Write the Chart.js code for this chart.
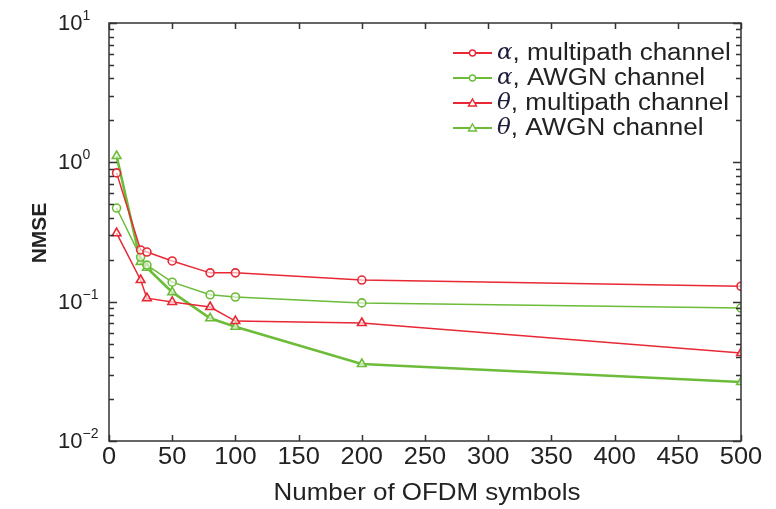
<!DOCTYPE html>
<html>
<head>
<meta charset="utf-8">
<script src="https://cdn.jsdelivr.net/npm/chart.js@4/dist/chart.umd.min.js"></script>
<style>
  html, body { margin: 0; padding: 0; background: #fff; }
  #wrap { width: 776px; height: 509px; }
</style>
</head>
<body>
<div id="wrap"><canvas id="nmseChart" width="776" height="509"></canvas></div>
<script>
// Datos
const xValues = [6, 25, 30, 50, 80, 100, 200, 500];
const alphaMultipath = [0.84, 0.235, 0.227, 0.196, 0.161, 0.161, 0.143, 0.129];
const alphaAwgn = [0.47, 0.209, 0.183, 0.138, 0.112, 0.108, 0.098, 0.090];
const thetaMultipath = [0.31, 0.143, 0.106, 0.0995, 0.0916, 0.0726, 0.0703, 0.0428];
const thetaAwgn = [1.11, 0.193, 0.175, 0.117, 0.076, 0.066, 0.0357, 0.0265];

const xTicks = [0, 50, 100, 150, 200, 250, 300, 350, 400, 450, 500];
const yDecades = [-2, -1, 0, 1];

const seriesSymbols = ['α', 'α', 'θ', 'θ'];
const seriesNames = [', multipath channel', ', AWGN channel', ', multipath channel', ', AWGN channel'];

const RED = 'rgb(232, 40, 52)';
const GREEN = 'rgb(108, 188, 58)';
const FONT = '"Liberation Sans", Arial, sans-serif';
const TEXT = '#222';

const toPoints = ys => xValues.map((x, i) => ({ x: x, y: ys[i] }));

function makeDataset(label, ys, color, style, width) {
    return {
        label: label,
        data: toPoints(ys),
        borderColor: color,
        backgroundColor: 'rgba(255,255,255,0.6)',
        borderWidth: width,
        pointStyle: style,
        pointRadius: style === 'circle' ? 4 : 5,
        pointBorderColor: color,
        pointBorderWidth: 1.6,
        tension: 0
    };
}

// texto con estiramiento horizontal (la figura original está algo ensanchada)
function wideText(c, txt, x, y, font, sx, align) {
    c.save();
    c.font = font;
    const w = c.measureText(txt).width * sx;
    let left = x;
    if (align === 'center') left = x - w / 2;
    else if (align === 'right') left = x - w;
    c.translate(left, y);
    c.scale(sx, 1);
    c.textAlign = 'left';
    c.fillText(txt, 0, 0);
    c.restore();
    return w;
}

// Marco, ticks hacia dentro, etiquetas y leyenda interior
const framePlugin = {
    id: 'frame',
    afterDraw(chart) {
        const c = chart.ctx;
        const a = chart.chartArea;
        const xs = chart.scales.x;
        const ys = chart.scales.y;
        c.save();
        c.strokeStyle = '#333';
        c.lineWidth = 1.5;
        c.strokeRect(a.left, a.top, a.right - a.left, a.bottom - a.top);

        // ticks del eje x (abajo y arriba)
        xTicks.forEach(v => {
            const px = Math.round(xs.getPixelForValue(v)) + 0.5;
            c.beginPath();
            c.moveTo(px, a.bottom); c.lineTo(px, a.bottom - 6);
            c.moveTo(px, a.top); c.lineTo(px, a.top + 6);
            c.stroke();
        });

        // ticks logarítmicos del eje y (izquierda y derecha)
        c.lineWidth = 1.3;
        yDecades.forEach(d => {
            for (let k = 1; k <= 9; k++) {
                if (d === 1 && k > 1) break;
                const py = Math.round(ys.getPixelForValue(k * Math.pow(10, d))) + 0.5;
                const len = k === 1 ? 8 : 5;
                c.beginPath();
                c.moveTo(a.left, py); c.lineTo(a.left + len, py);
                c.moveTo(a.right, py); c.lineTo(a.right - len, py);
                c.stroke();
            }
        });

        c.fillStyle = TEXT;
        c.textBaseline = 'middle';

        // etiquetas del eje x
        xTicks.forEach(v => {
            wideText(c, String(v), xs.getPixelForValue(v), a.bottom + 16, '24px ' + FONT, 1.06, 'center');
        });
        wideText(c, 'Number of OFDM symbols', (a.left + a.right) / 2 + 2, 493, '24px ' + FONT, 1.08, 'center');

        // etiquetas 10^n
        yDecades.forEach(d => {
            const py = ys.getPixelForValue(Math.pow(10, d));
            const sup = d < 0 ? '\u2212' + Math.abs(d) : String(d);
            const w = wideText(c, '10', 58, py + 1, '22px ' + FONT, 1.0, 'left');
            wideText(c, sup, 58 + w, py - 7, '14px ' + FONT, 1.0, 'left');
        });

        // título del eje y
        c.save();
        c.translate(40, (a.top + a.bottom) / 2 + 1);
        c.rotate(-Math.PI / 2);
        c.textAlign = 'center';
        c.font = 'bold 21px ' + FONT;
        c.fillText('NMSE', 0, 0);
        c.restore();

        // leyenda
        const rows = [
            { color: RED, style: 'circle' },
            { color: GREEN, style: 'circle' },
            { color: RED, style: 'triangle' },
            { color: GREEN, style: 'triangle' }
        ];
        const lx = 453, lw = 39, ly0 = 53, lh = 25;
        rows.forEach((r, i) => {
            const y = ly0 + i * lh;
            c.strokeStyle = r.color;
            c.lineWidth = 1.8;
            c.beginPath();
            c.moveTo(lx, y); c.lineTo(lx + lw, y);
            c.stroke();
            c.fillStyle = '#fff';
            c.lineWidth = 1.4;
            c.beginPath();
            if (r.style === 'circle') {
                c.arc(lx + lw / 2, y, 3, 0, Math.PI * 2);
            } else {
                c.moveTo(lx + lw / 2, y - 4);
                c.lineTo(lx + lw / 2 + 4, y + 3);
                c.lineTo(lx + lw / 2 - 4, y + 3);
                c.closePath();
            }
            c.fill();
            c.stroke();
            c.fillStyle = '#1e1e3c';
            const w = wideText(c, seriesSymbols[i], lx + lw + 5, y, 'italic 23px "DejaVu Serif", serif', 1.0, 'left');
            c.fillStyle = TEXT;
            wideText(c, seriesNames[i], lx + lw + 5 + w, y + 1, '23px ' + FONT, 1.13, 'left');
        });
        c.restore();
    }
};

const ctx = document.getElementById('nmseChart').getContext('2d');
new Chart(ctx, {
    type: 'line',
    data: {
        datasets: [
            makeDataset('α, multipath channel', alphaMultipath, RED, 'circle', 1.5),
            makeDataset('α, AWGN channel', alphaAwgn, GREEN, 'circle', 1.5),
            makeDataset('θ, multipath channel', thetaMultipath, RED, 'triangle', 1.5),
            makeDataset('θ, AWGN channel', thetaAwgn, GREEN, 'triangle', 2.6)
        ]
    },
    options: {
        responsive: false,
        animation: false,
        layout: { padding: { top: 23, right: 35, left: 0, bottom: 0 } },
        plugins: {
            legend: { display: false },
            tooltip: { enabled: false }
        },
        scales: {
            x: {
                type: 'linear',
                min: 0,
                max: 500,
                grid: { display: false, drawTicks: false },
                border: { display: false },
                ticks: { display: false },
                afterFit: s => { s.height = 68; }
            },
            y: {
                type: 'logarithmic',
                min: 0.01,
                max: 10,
                grid: { display: false, drawTicks: false },
                border: { display: false },
                ticks: { display: false },
                afterFit: s => { s.width = 109; }
            }
        }
    },
    plugins: [framePlugin]
});
</script>
</body>
</html>
